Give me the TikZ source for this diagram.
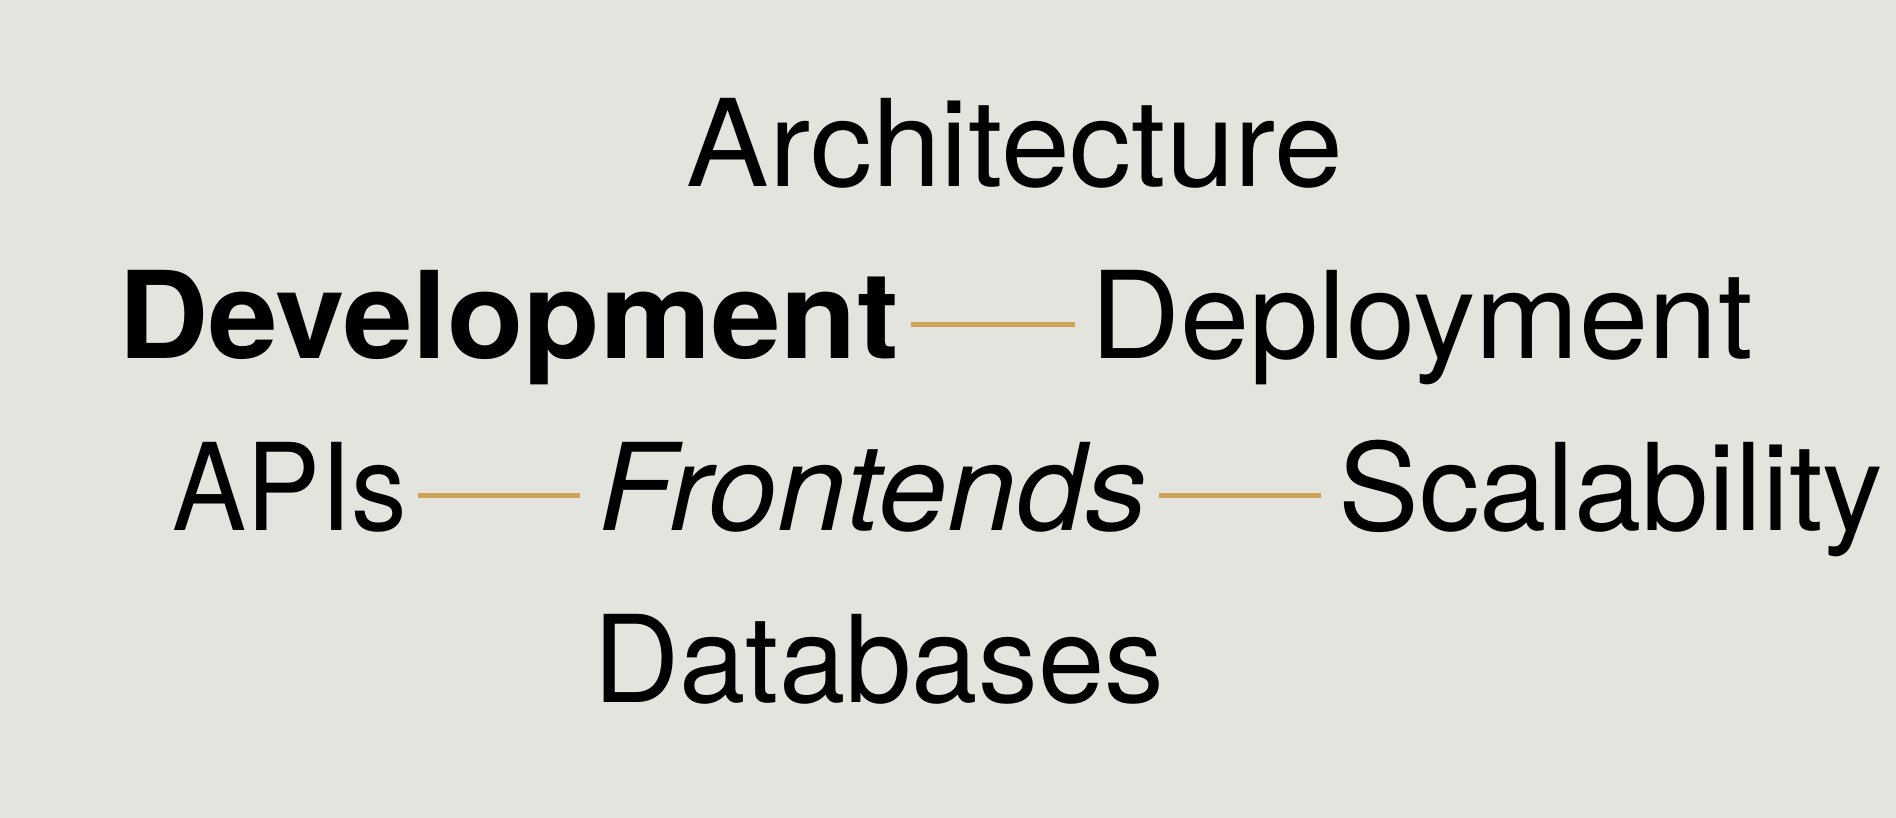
\documentclass[tikz,border=0pt]{standalone}
\usepackage{fontspec}
\setmainfont{TeX Gyre Heros}
\definecolor{bgcol}{RGB}{227,228,222}
\definecolor{gold}{RGB}{208,164,88}
\begin{document}
\begin{tikzpicture}[x=1pt,y=-1pt,
  word/.style={inner sep=0pt, anchor=base, font=\fontsize{121}{140}\selectfont, text=black},
  link/.style={draw=gold, line width=4.5pt}]
\fill[bgcol] (0,0) rectangle (1896,818);
\useasboundingbox (0,0) rectangle (1896,818);
\node[word] (arch) at (1015.3,187) {\scalebox{1.023}[1]{Architecture}};
\node[word, font=\fontsize{121}{140}\selectfont\bfseries] (dev) at (508.4,359) {\scalebox{1.033}[1]{Development}};
\node[word] (depl) at (1421.4,359) {\scalebox{1.03}[1]{Deployment}};
\node[word] (apis) at (289.5,530) {\scalebox{0.917}[1]{APIs}};
\node[word, font=\fontsize{121}{140}\selectfont\itshape] (front) at (873,530) {\scalebox{1.025}[1]{Frontends}};
\node[word] (scal) at (1611,530) {Scalability};
\node[word] (db) at (878.7,702) {\scalebox{0.987}[1]{Databases}};
\draw[link, shorten <=12pt, shorten >=15pt] ([yshift=34.5pt]dev.base east) -- ([yshift=34.5pt]depl.base west);
\draw[link, shorten <=11pt, shorten >=19pt] ([yshift=34.5pt]apis.base east) -- ([yshift=34.5pt]front.base west);
\draw[link, shorten <=12pt, shorten >=18pt] ([yshift=34.5pt]front.base east) -- ([yshift=34.5pt]scal.base west);
\end{tikzpicture}
\end{document}
